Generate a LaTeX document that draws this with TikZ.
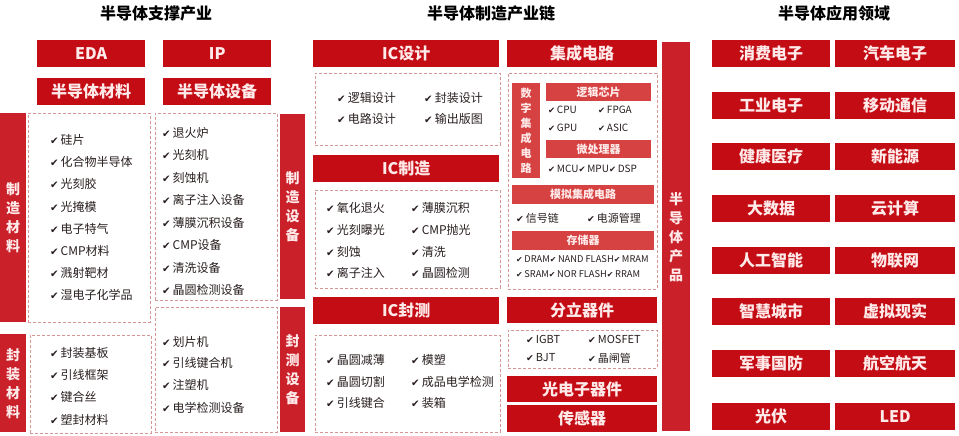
\documentclass[tikz,border=0pt]{standalone}
\usepackage{fontspec}
\setmainfont{Noto Sans CJK SC}
\newfontfamily\chkfont{DejaVu Sans}
\usepackage{tikz}

\definecolor{hdred}{RGB}{196,12,20}
\definecolor{subred}{RGB}{214,66,66}
\definecolor{barred}{RGB}{202,32,42}
\definecolor{dashred}{RGB}{214,150,150}
\definecolor{hdtext}{RGB}{255,234,234}
\definecolor{itemtext}{RGB}{40,30,30}

\newcommand{\chk}{{\chkfont\scalebox{0.85}{✔}}\,}

\begin{document}
\begin{tikzpicture}[x=1pt, y=-1pt,
  title/.style={font=\bfseries\fontsize{16}{16}\selectfont, inner sep=0pt},
  hdr/.style 2 args={fill=hdred, text=hdtext, anchor=north west, inner sep=0pt,
    minimum width=#1pt, minimum height=#2pt, font=\bfseries\fontsize{16}{16}\selectfont},
  sub/.style 2 args={fill=subred, text=hdtext, anchor=north west, inner sep=0pt,
    minimum width=#1pt, minimum height=#2pt, font=\bfseries\fontsize{11}{11}\selectfont},
  vbar/.style 2 args={fill=barred, text=hdtext, anchor=north west, inner sep=0pt, align=center,
    minimum width=#1pt, minimum height=#2pt, font=\bfseries\fontsize{14}{19}\selectfont},
  vsub/.style 2 args={fill=subred, text=hdtext, anchor=north west, inner sep=0pt, align=center,
    minimum width=#1pt, minimum height=#2pt, font=\bfseries\fontsize{11}{15}\selectfont},
  dbox/.style 2 args={draw=dashred, densely dashed, line width=0.8pt, anchor=north west,
    inner sep=0pt, minimum width=#1pt, minimum height=#2pt},
  item/.style={anchor=west, inner sep=0pt, text=itemtext, font=\fontsize{12}{12}\selectfont},
  small/.style={item, font=\fontsize{10}{10}\selectfont}]

    \useasboundingbox (0,0) rectangle (959,436);

    % titles
    \node[title] (supTitle) at (156,13) {半导体支撑产业};
    \node[title] (mfgTitle) at (491,13) {半导体制造产业链};
    \node[title] (appTitle) at (834,13) {半导体应用领域};

    % support industry
    \node[hdr={108}{27}] (eda) at (37,40) {EDA};
    \node[hdr={108}{27}] (ip) at (163,40) {IP};
    \node[hdr={108}{27}] (mat) at (37,78) {半导体材料};
    \node[hdr={108}{27}] (equ) at (163,78) {半导体设备};

    \node[vbar={26}{209}] (mfgMat) at (0,113) {制\\造\\材\\料};
    \node[dbox={122}{209}] (matBox) at (28,113) {};
    \node[dbox={122}{187}] (equBox) at (155,113) {};
    \node[vbar={25}{185}] (mfgEqu) at (280,114) {制\\造\\设\\备};
    \node[vbar={26}{98}] (pkgMat) at (0,334) {封\\装\\材\\料};
    \node[dbox={121}{98}] (pkgMatBox) at (30,335) {};
    \node[dbox={122}{125}] (pkgEquBox) at (155,307) {};
    \node[vbar={25}{125}] (pkgEqu) at (280,307) {封\\测\\设\\备};

    \node[item] (mat1) at (50,140) {\chk 硅片};
    \node[item] (mat2) at (50,162) {\chk 化合物半导体};
    \node[item] (mat3) at (50,184) {\chk 光刻胶};
    \node[item] (mat4) at (50,207) {\chk 光掩模};
    \node[item] (mat5) at (50,229) {\chk 电子特气};
    \node[item] (mat6) at (50,251) {\chk CMP材料};
    \node[item] (mat7) at (50,273) {\chk 溅射靶材};
    \node[item] (mat8) at (50,295) {\chk 湿电子化学品};

    \node[item] (equ1) at (162,133) {\chk 退火炉};
    \node[item] (equ2) at (162,155) {\chk 光刻机};
    \node[item] (equ3) at (162,178) {\chk 刻蚀机};
    \node[item] (equ4) at (162,200) {\chk 离子注入设备};
    \node[item] (equ5) at (162,223) {\chk 薄膜沉积设备};
    \node[item] (equ6) at (162,245) {\chk CMP设备};
    \node[item] (equ7) at (162,268) {\chk 清洗设备};
    \node[item] (equ8) at (162,290) {\chk 晶圆检测设备};

    \node[item] (pm1) at (50,353) {\chk 封装基板};
    \node[item] (pm2) at (50,375) {\chk 引线框架};
    \node[item] (pm3) at (50,397) {\chk 键合丝};
    \node[item] (pm4) at (50,420) {\chk 塑封材料};

    \node[item] (pe1) at (162,342) {\chk 划片机};
    \node[item] (pe2) at (162,363) {\chk 引线键合机};
    \node[item] (pe3) at (162,385) {\chk 注塑机};
    \node[item] (pe4) at (162,408) {\chk 电学检测设备};

    % manufacturing chain
    \node[hdr={186}{27}] (icd) at (313,40) {IC设计};
    \node[dbox={185}{72}] (icdBox) at (315,73) {};
    \node[hdr={186}{27}] (icm) at (313,155) {IC制造};
    \node[dbox={185}{98}] (icmBox) at (315,190) {};
    \node[hdr={186}{27}] (ict) at (313,297) {IC封测};
    \node[dbox={185}{97}] (ictBox) at (315,335) {};

    \node[item] (icd1) at (337,98) {\chk 逻辑设计};
    \node[item] (icd2) at (424,98) {\chk 封装设计};
    \node[item] (icd3) at (337,119) {\chk 电路设计};
    \node[item] (icd4) at (424,119) {\chk 输出版图};

    \node[item] (icm1) at (326,208) {\chk 氧化退火};
    \node[item] (icm2) at (411,208) {\chk 薄膜沉积};
    \node[item] (icm3) at (326,230) {\chk 光刻曝光};
    \node[item] (icm4) at (411,230) {\chk CMP抛光};
    \node[item] (icm5) at (326,252) {\chk 刻蚀};
    \node[item] (icm6) at (411,252) {\chk 清洗};
    \node[item] (icm7) at (326,273) {\chk 离子注入};
    \node[item] (icm8) at (411,273) {\chk 晶圆检测};

    \node[item] (ict1) at (326,360) {\chk 晶圆减薄};
    \node[item] (ict2) at (411,360) {\chk 模塑};
    \node[item] (ict3) at (326,382) {\chk 晶圆切割};
    \node[item] (ict4) at (411,382) {\chk 成品电学检测};
    \node[item] (ict5) at (326,403) {\chk 引线键合};
    \node[item] (ict6) at (411,403) {\chk 装箱};

    \node[hdr={150}{27}] (ic) at (507,40) {集成电路};
    \node[dbox={149}{216}] (icBox) at (508,73) {};
    \node[vsub={28}{95}] (dig) at (512,83) {数\\字\\集\\成\\电\\路};
    \node[sub={105}{18}] (logic) at (546,83) {逻辑芯片};
    \node[sub={105}{18}] (micro) at (546,140) {微处理器};
    \node[sub={142}{19}] (ana) at (512,185) {模拟集成电路};
    \node[sub={142}{19}] (mem) at (512,231) {存储器};

    \node[small] (cpu) at (548,110) {\chk CPU};
    \node[small] (fpga) at (598,110) {\chk FPGA};
    \node[small] (gpu) at (548,128) {\chk GPU};
    \node[small] (asic) at (598,128) {\chk ASIC};
    \node[small] (mcu) at (548,169) {\chk MCU\chk MPU\chk DSP};
    \node[item, font=\fontsize{11}{11}\selectfont] (sig) at (516,218) {\chk 信号链};
    \node[item, font=\fontsize{11}{11}\selectfont] (pwr) at (587,218) {\chk 电源管理};
    \node[small, font=\fontsize{9.3}{9.3}\selectfont] (dram) at (516,259) {\chk DRAM\chk NAND FLASH\chk MRAM};
    \node[small, font=\fontsize{9.3}{9.3}\selectfont] (sram) at (516,274) {\chk SRAM\chk NOR FLASH\chk RRAM};

    \node[hdr={150}{26}] (disc) at (507,297) {分立器件};
    \node[dbox={149}{38}] (discBox) at (508,330) {};
    \node[small, font=\fontsize{11}{11}\selectfont] (igbt) at (526,339) {\chk IGBT};
    \node[small, font=\fontsize{11}{11}\selectfont] (mos) at (588,339) {\chk MOSFET};
    \node[small, font=\fontsize{11}{11}\selectfont] (bjt) at (526,358) {\chk BJT};
    \node[small, font=\fontsize{11}{11}\selectfont] (thy) at (588,358) {\chk 晶闸管};
    \node[hdr={150}{26}] (opto) at (507,376) {光电子器件};
    \node[hdr={150}{27}] (sens) at (507,405) {传感器};

    \node[vbar={28}{389}] (prod) at (662,42) {半\\导\\体\\产\\品};

    % application fields
    \node[hdr={118}{27}] (app1) at (712,40) {消费电子};
    \node[hdr={120}{27}] (app2) at (835,40) {汽车电子};
    \node[hdr={118}{27}] (app3) at (712,92) {工业电子};
    \node[hdr={120}{27}] (app4) at (835,92) {移动通信};
    \node[hdr={118}{27}] (app5) at (712,143) {健康医疗};
    \node[hdr={120}{27}] (app6) at (835,143) {新能源};
    \node[hdr={118}{27}] (app7) at (712,195) {大数据};
    \node[hdr={120}{27}] (app8) at (835,195) {云计算};
    \node[hdr={118}{27}] (app9) at (712,247) {人工智能};
    \node[hdr={120}{27}] (app10) at (835,247) {物联网};
    \node[hdr={118}{27}] (app11) at (712,298) {智慧城市};
    \node[hdr={120}{27}] (app12) at (835,298) {虚拟现实};
    \node[hdr={118}{27}] (app13) at (712,350) {军事国防};
    \node[hdr={120}{27}] (app14) at (835,350) {航空航天};
    \node[hdr={118}{27}] (app15) at (712,403) {光伏};
    \node[hdr={120}{27}] (app16) at (835,403) {LED};

\end{tikzpicture}
\end{document}
